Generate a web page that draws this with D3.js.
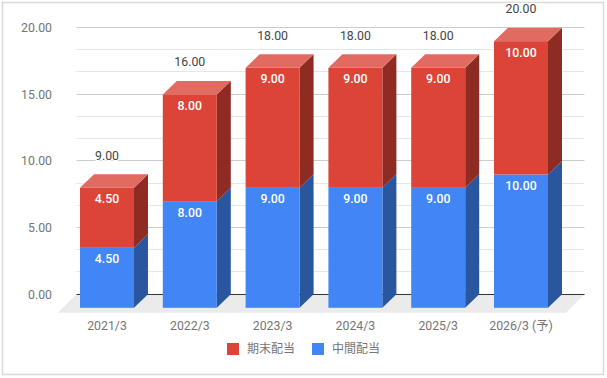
<!DOCTYPE html>
<html><head><meta charset="utf-8">
<script src="https://cdn.jsdelivr.net/npm/d3@7"></script>
<style>
html,body{margin:0;padding:0;background:#fff}
svg{display:block}
text{font-family:Roboto,"Noto Sans CJK JP",sans-serif}
</style></head><body><svg id="c" width="607" height="378"></svg>
<script>
const categories=["2021/3","2022/3","2023/3","2024/3","2025/3","2026/3 (予)"];
const interim=[4.5,8,9,9,9,10];
const yearEnd=[4.5,8,9,9,9,10];
const legendLabels=["期末配当","中間配当"];
const majorTicks=[0,5,10,15,20];
const minorTicks=[5/3,10/3,20/3,25/3,35/3,40/3,50/3,55/3];
const fmt=d3.format(".2f");
const svg=d3.select("#c");
const DX=14,DY=13.5;
const y=d3.scaleLinear().domain([0,20]).range([294.3,27.7]);
const x=d3.scaleBand().domain(categories).range([80,548]).paddingInner(0.348).paddingOuter(0);
const y0=y(0),baseY=y0+DY;
svg.append("rect").attr("x",2.5).attr("y",2.5).attr("width",601).attr("height",372).attr("fill","#fff").attr("stroke","#d9d9d9").attr("stroke-width",1.5);
svg.append("polygon").attr("fill","#ebebeb").attr("points",[[76.5,y0],[584.5,y0],[566,y0+18.5],[58,y0+18.5]].join(" "));
const gy=d=>Math.floor(y(d)-.2)+.5;
const grid=(t,c)=>svg.append("g").selectAll("line").data(t).join("line").attr("x1",76.5).attr("x2",584.5).attr("y1",gy).attr("y2",gy).attr("stroke",c);
grid(minorTicks,"#e6e6e6");
grid(majorTicks.slice(1),"#cccccc");
grid([0],"#333333");
const ya=svg.append("g").attr("transform","translate(52,0)").call(d3.axisLeft(y).tickValues(majorTicks).tickFormat(fmt).tickSize(0).tickPadding(0));
ya.select(".domain").remove();
ya.selectAll("text").attr("fill","#757575").style("font-size","12.3px").style("font-family","Roboto");
const xa=svg.append("g").attr("transform",`translate(0,${baseY+10.5})`).call(d3.axisBottom(x).tickSize(0).tickPadding(3));
xa.select(".domain").remove();
xa.selectAll("text").attr("fill","#757575").style("font-size","12.3px").style("font-family",'Roboto,"Noto Sans CJK JP"');
const h=v=>y0-y(v);
function seg(cat,from,to,front,side,top){
  const g=svg.append("g"),L=x(cat),R=L+x.bandwidth(),b=baseY-h(from),t=baseY-h(to);
  g.append("polygon").attr("fill",side).attr("points",[[R,b],[R+DX,b-DY],[R+DX,t-DY],[R,t]].join(" "));
  if(top)g.append("polygon").attr("fill",top).attr("points",[[L,t],[L+DX,t-DY],[R+DX,t-DY],[R,t]].join(" "));
  g.append("rect").attr("x",L).attr("y",t).attr("width",x.bandwidth()).attr("height",b-t).attr("fill",front);
}
const totalGap={9:18.8,16:19.8,18:18.5,20:19.5};
categories.forEach((c,i)=>{
  const a=interim[i],e=yearEnd[i],cx=x(c)+x.bandwidth()/2;
  seg(c,0,a,"#4285f4","#2a56a0",null);
  seg(c,a,a+e,"#db4437","#8e2b23","#e26b61");
  const lab=(v,yy,fill,w)=>svg.append("text").attr("x",cx).attr("y",yy).attr("text-anchor","middle").attr("dy","0.36em").attr("fill",fill).style("font-size","12.3px").style("font-weight",w).text(fmt(v));
  lab(a,baseY-h(a)+11,"#fff",500);
  lab(e,baseY-h(a+e)+11,"#fff",500);
  lab(a+e,baseY-h(a+e)-DY-totalGap[a+e],"#444",400).attr("stroke","#fff").attr("stroke-width",2.5).attr("paint-order","stroke");
});
const lx=[227,312],col=["#db4437","#4285f4"];
legendLabels.forEach((s,i)=>{
  svg.append("rect").attr("x",lx[i]).attr("y",343).attr("width",12).attr("height",12).attr("fill",col[i]);
  svg.append("text").attr("x",lx[i]+20).attr("y",349).attr("dy","0.36em").attr("fill","#757575").style("font-size","12px").style("font-family",'"Noto Sans CJK JP"').text(s);
});
</script></body></html>
